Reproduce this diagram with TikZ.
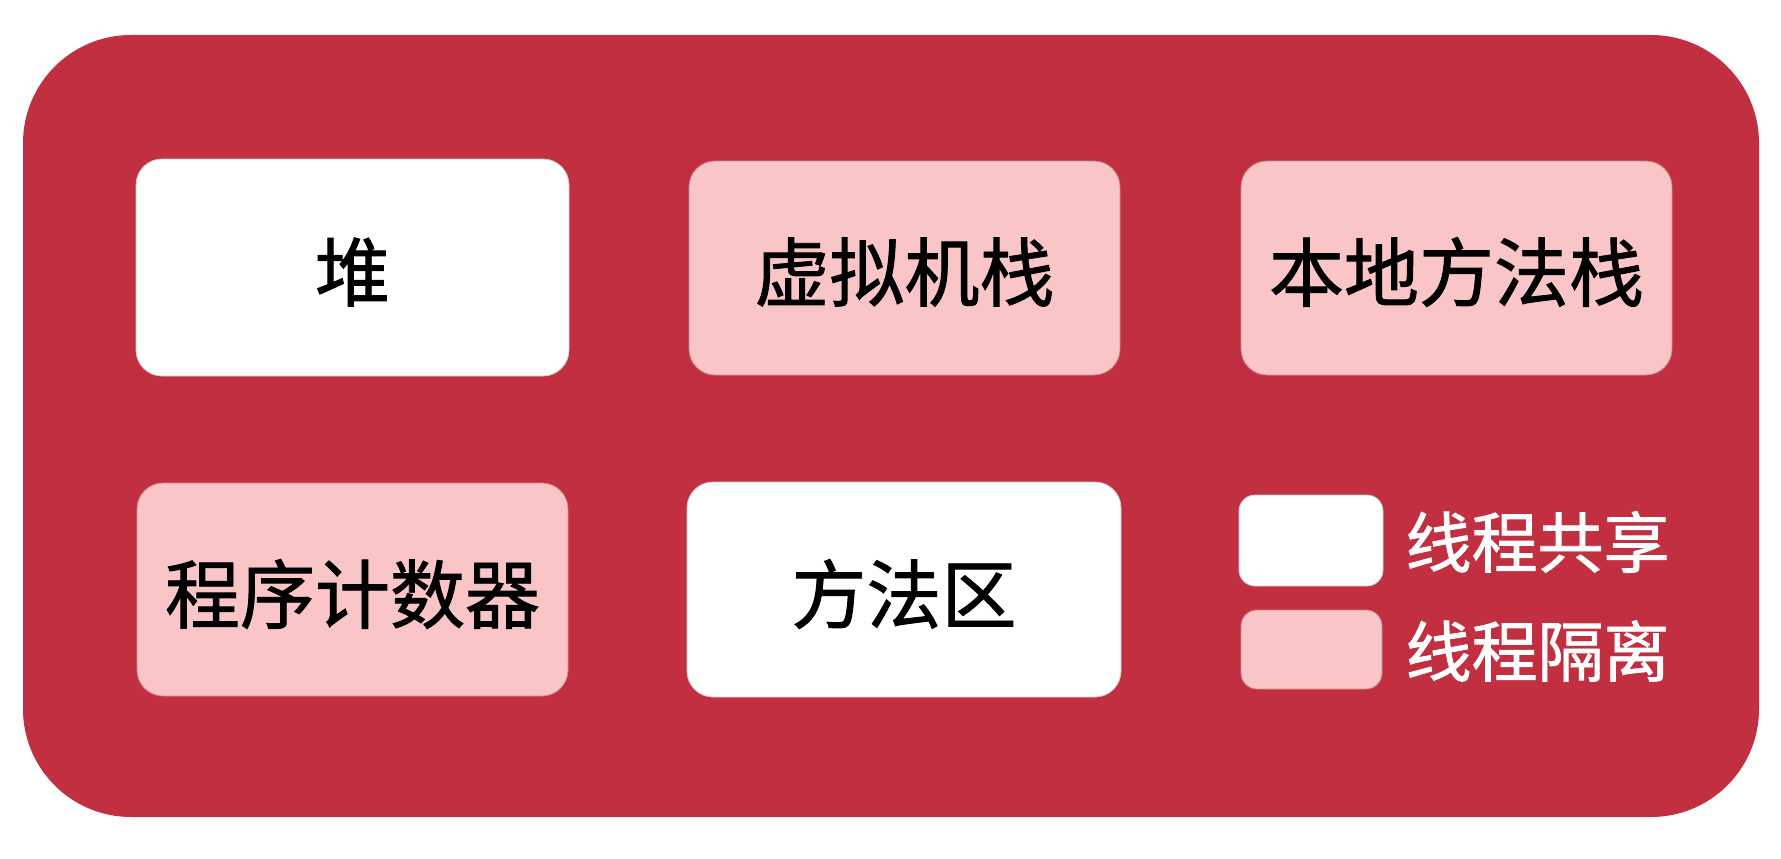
\documentclass[tikz,border=0pt]{standalone}
\usepackage{fontspec}
\newfontfamily\cjk[UprightFeatures={FakeBold=1.2}]{Noto Sans CJK SC}
\definecolor{bgred}{HTML}{C12F40}
\definecolor{pinkbox}{HTML}{F9C5C6}
\definecolor{pinkedge}{HTML}{C98A8E}
\begin{document}
\begin{tikzpicture}[x=1pt,y=-1pt,
  shared/.style={fill=white,draw=white!80!black,line width=0.8pt,rounded corners=26pt},
  isolated/.style={fill=pinkbox,draw=pinkedge,line width=0.8pt,rounded corners=26pt},
  boxtext/.style={font=\cjk\fontsize{75}{82}\selectfont,text=black},
  legendtext/.style={font=\cjk\fontsize{66}{72}\selectfont,text=white,anchor=west},
  legshared/.style={fill=white,draw=white!80!black,line width=0.8pt,rounded corners=16pt},
  legisolated/.style={fill=pinkbox,draw=pinkedge,line width=0.8pt,rounded corners=16pt}]
\useasboundingbox (0,0) rectangle (1781,859);
\fill[white] (0,0) rectangle (1781,859);
\fill[bgred,rounded corners=108pt] (23,35) rectangle (1759,817);
% boxes
\draw[shared] (136,159) rectangle (569,376);
\node[boxtext] (heap) at (352.5,272) {堆};
\draw[isolated] (689,161) rectangle (1120,375);
\node[boxtext] (vmstack) at (904.5,272) {虚拟机栈};
\draw[isolated] (1241,161) rectangle (1672,375);
\node[boxtext] (native) at (1456.5,272) {本地方法栈};
\draw[isolated] (137,483) rectangle (568,696);
\node[boxtext] (pc) at (352.5,594) {程序计数器};
\draw[shared] (687,482) rectangle (1121,697);
\node[boxtext] (method) at (904,594) {方法区};
% legend
\draw[legshared] (1239,495) rectangle (1383,586);
\node[legendtext] (lshared) at (1402,542) {线程共享};
\draw[legisolated] (1241,610) rectangle (1382,689);
\node[legendtext] (liso) at (1402,651) {线程隔离};
\end{tikzpicture}
\end{document}
